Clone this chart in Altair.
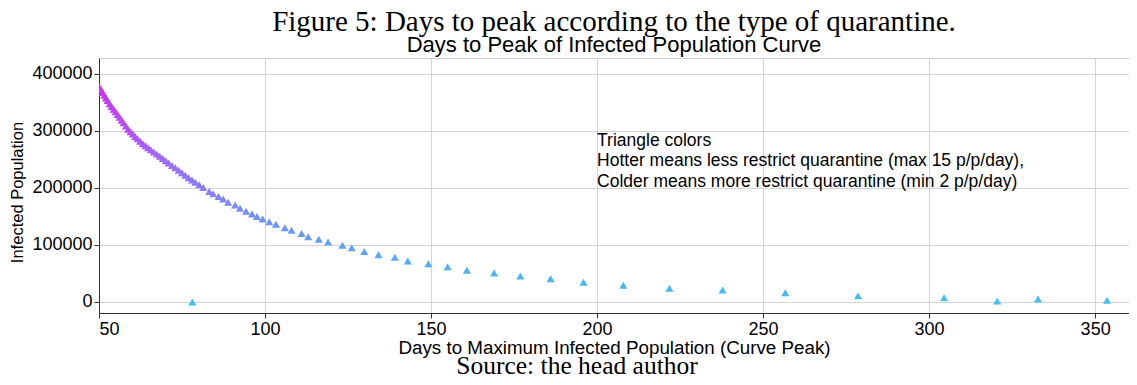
import altair as alt
import pandas as pd

# Days to peak (x) and infected population at peak (y)
days = [49.6, 50.1, 50.6, 51.1, 51.6, 52.1, 52.6, 53.2, 53.8, 54.4, 55.0, 55.6, 56.2, 56.8,
        57.4, 58.1, 58.8, 59.5, 60.2, 60.9, 61.6, 62.4, 63.2, 64.0, 64.8, 65.6, 66.5, 67.4,
        68.3, 69.2, 70.1, 71.0, 72.0, 73.0, 74.0, 75.0, 76.0, 77.0, 78.0, 79.0, 80.2,
        81.4, 83.2, 84.4, 86.0, 87.4, 88.9, 91.0, 92.5, 94.3, 96.1, 97.6, 99.3, 101.3,
        103.3, 106.0, 108.0, 111.0, 113.0, 116.2, 119.0, 123.3, 126.1, 129.9, 134.2,
        139.1, 143.0, 149.2, 155.0, 160.8, 169.0, 176.9, 186.0, 195.9, 207.9, 221.8,
        237.8, 256.7, 278.6, 304.5, 320.5, 332.8, 353.6, 78.1]
infected = [381800, 377000, 372300, 367600, 362800, 358000, 353300, 347900, 343100, 338300,
            333500, 328700, 323900, 319100, 314300, 308700, 303100, 298600, 294500, 290500,
            286400, 281800, 277400, 274000, 270600, 267100, 263200, 259400, 255500, 251600,
            247800, 243900, 239600, 235300, 231000, 226700, 222400, 218100, 214000, 210200,
            205800, 201000, 194000, 190000, 185000, 180500, 175000, 170000, 164500, 159000,
            154400, 150000, 145600, 140900, 136300, 130400, 126000, 120300, 114500, 110000,
            105300, 99600, 95200, 88500, 83000, 78400, 71900, 67200, 62000, 55600, 50900,
            45800, 40900, 34500, 29200, 24000, 21000, 16400, 11000, 7400, 1750, 5300, 3000, 0]

x_ticks = [50, 100, 150, 200, 250, 300, 350]
y_ticks = [0, 100000, 200000, 300000, 400000]

note_days = [200]
note_infected = [273700]
note_lines = ["Triangle colors",
              "Hotter means less restrict quarantine (max 15 p/p/day),",
              "Colder means more restrict quarantine (min 2 p/p/day)"]

df = pd.DataFrame({"days": days, "infected": infected})
note_df = pd.DataFrame({"days": note_days, "infected": note_infected})
src_df = pd.DataFrame({"label": ["Source: the head author"]})

x_enc = alt.X("days:Q",
              scale=alt.Scale(domain=[50, 360.2], nice=False, zero=False),
              axis=alt.Axis(title="Days to Maximum Infected Population (Curve Peak)",
                            values=x_ticks, format="d", titlePadding=0))
y_enc = alt.Y("infected:Q",
              scale=alt.Scale(domain=[-19300, 428000], nice=False, zero=False),
              axis=alt.Axis(title="Infected Population", values=y_ticks, format="d",
                            titleY=134))

points = alt.Chart(df).mark_point(
    shape="triangle-up", filled=True, size=65, opacity=1, clip=True
).encode(
    x=x_enc, y=y_enc,
    color=alt.Color("infected:Q",
                    scale=alt.Scale(domain=[0, 100000, 200000, 300000, 380000],
                                    range=["#40c2f2", "#62a2f5", "#8a7cf5", "#b450f5", "#d42af2"]),
                    legend=None),
)

note = alt.Chart(note_df).mark_text(
    align="left", baseline="alphabetic", font="Liberation Sans", fontSize=17.5,
    lineHeight=20.5, color="black"
).encode(x="days:Q", y="infected:Q", text=alt.value(note_lines))

source = alt.Chart(src_df).mark_text(
    align="center", baseline="alphabetic", font="Liberation Serif", fontSize=25.5,
    color="black"
).encode(x=alt.value(478), y=alt.value(316), text="label:N")

chart = alt.layer(points, note, source).properties(
    width=1030, height=255,
    title=alt.TitleParams(
        text="Figure 5: Days to peak according to the type of quarantine.",
        subtitle="Days to Peak of Infected Population Curve",
        font="Liberation Serif", fontSize=29, fontWeight="normal", color="black",
        subtitleFont="Liberation Sans", subtitleFontSize=22, subtitleColor="black",
        subtitlePadding=-2, anchor="middle", offset=2,
    ),
    padding={"left": 91, "top": 50, "right": 0, "bottom": 64},
    autosize=alt.AutoSizeParams(type="none"),
).configure_view(
    stroke="#cccccc", strokeWidth=1
).configure_axis(
    labelFont="Liberation Sans", labelFontSize=18, labelColor="black",
    titleFont="Liberation Sans", titleFontWeight="normal", titleColor="black",
    domainColor="#333333", tickColor="#333333", tickSize=5,
    gridColor="#d4d4d4", gridWidth=1, labelPadding=2,
).configure_axisY(
    titlePadding=6, titleFontSize=16.5
).configure_axisX(
    titleFontSize=18.8
)

chart.save("out.html", embed_options={"renderer": "svg", "actions": False})
